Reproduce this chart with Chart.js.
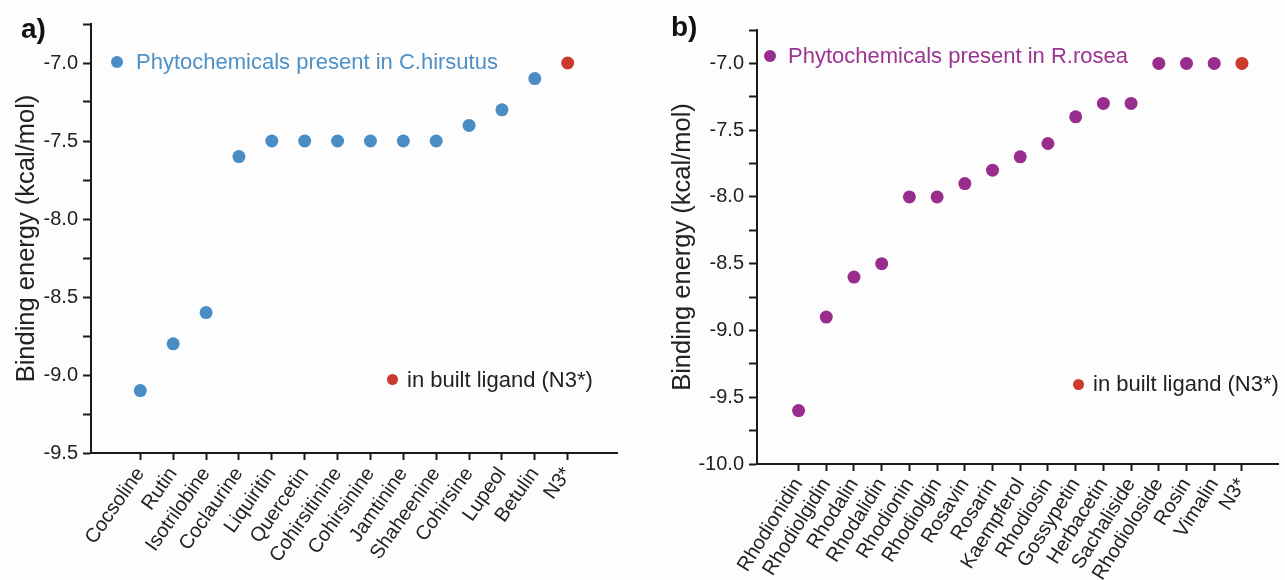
<!DOCTYPE html>
<html>
<head>
<meta charset="utf-8">
<script src="https://cdn.jsdelivr.net/npm/chart.js@4.4.1/dist/chart.umd.min.js"></script>
<style>
  html, body { margin:0; padding:0; background:#fdfdfd; }
  #wrap { position:relative; width:1285px; height:580px; overflow:hidden; font-family:"Liberation Sans", Arial, sans-serif; }
  canvas { position:absolute; top:0; }
  .lbl { position:absolute; font-weight:bold; font-size:28px; line-height:28px; color:#111; }
  .leg { position:absolute; font-size:22px; line-height:22px; white-space:nowrap; }
  .dot { position:absolute; border-radius:50%; }
</style>
</head>
<body>
<div id="wrap">
  <canvas id="ca" width="640" height="580" style="left:0px"></canvas>
  <canvas id="cb" width="645" height="580" style="left:640px"></canvas>

  <div class="lbl" style="left:21px; top:15px;">a)</div>
  <div class="lbl" style="left:671px; top:13px;">b)</div>

  <div class="dot" style="left:111px; top:56px; width:12px; height:12px; background:#4a8cc4;"></div>
  <div class="leg" style="left:136px; top:51px; color:#4f90c6;">Phytochemicals present in C.hirsutus</div>
  <div class="dot" style="left:387px; top:374px; width:11px; height:11px; background:#cc3a2e;"></div>
  <div class="leg" style="left:407px; top:369px; color:#222;">in built ligand (N3*)</div>

  <div class="dot" style="left:764px; top:50px; width:12px; height:12px; background:#982d8e;"></div>
  <div class="leg" style="left:788px; top:45px; color:#9b3592;">Phytochemicals present in R.rosea</div>
  <div class="dot" style="left:1073px; top:379px; width:11px; height:11px; background:#cc3a2e;"></div>
  <div class="leg" style="left:1093px; top:373px; color:#222;">in built ligand (N3*)</div>
</div>
<script>
// ---- Data ----
const aCategories = ['Cocsoline','Rutin','Isotrilobine','Coclaurine','Liquiritin','Quercetin','Cohirsitinine','Cohirsinine','Jamtinine','Shaheenine','Cohirsine','Lupeol','Betulin','N3*'];
const aValues = [-9.1,-8.8,-8.6,-7.6,-7.5,-7.5,-7.5,-7.5,-7.5,-7.5,-7.4,-7.3,-7.1,-7.0];

const bCategories = ['Rhodionidin','Rhodiolgidin','Rhodalin','Rhodalidin','Rhodionin','Rhodiolgin','Rosavin','Rosarin','Kaempferol','Rhodiosin','Gossypetin','Herbacetin','Sachaliside','Rhodioloside','Rosin','Vimalin','N3*'];
const bValues = [-9.6,-8.9,-8.6,-8.5,-8.0,-8.0,-7.9,-7.8,-7.7,-7.6,-7.4,-7.3,-7.3,-7.0,-7.0,-7.0,-7.0];

const aYTicks = [-9.5,-9.25,-9.0,-8.75,-8.5,-8.25,-8.0,-7.75,-7.5,-7.25,-7.0,-6.75];
const bYTicks = [-10.0,-9.75,-9.5,-9.25,-9.0,-8.75,-8.5,-8.25,-8.0,-7.75,-7.5,-7.25,-7.0,-6.75];

const yTitle = 'Binding energy (kcal/mol)';
const refName = 'N3*';

// ---- Styles ----
const AXIS = '#1a1a1a';
const TXT = '#222';
const RED = '#cc3a2e';

function makeChart(id, cats, vals, yTicks, opt) {
  const refIdx = cats.indexOf(refName);
  return new Chart(document.getElementById(id), {
    type: 'scatter',
    data: {
      datasets: [{
        data: vals.map((v, i) => ({ x: i, y: v })),
        pointRadius: 6.5,
        pointHoverRadius: 6.5,
        pointBorderWidth: 0,
        pointBackgroundColor: vals.map((v, i) => i === refIdx ? RED : opt.color),
        showLine: false
      }]
    },
    options: {
      responsive: false,
      devicePixelRatio: 1,
      animation: false,
      layout: { padding: { top: opt.top, right: opt.right, left: 0, bottom: 0 } },
      plugins: { legend: { display: false }, tooltip: { enabled: false } },
      scales: {
        x: {
          type: 'linear',
          min: -1.5,
          max: opt.xmax,
          afterBuildTicks: (s) => { s.ticks = cats.map((c, i) => ({ value: i })); },
          afterFit: (s) => { s.height = opt.xh; s.paddingLeft = 0; s.paddingRight = 0; },
          ticks: {
            autoSkip: false,
            minRotation: opt.rot, maxRotation: opt.rot,
            padding: 3,
            color: TXT,
            font: { family: 'Liberation Sans', size: 20 },
            callback: (v) => cats[v]
          },
          grid: { drawOnChartArea: false, drawTicks: true, tickLength: 7, tickColor: AXIS, tickWidth: 2 },
          border: { display: true, color: AXIS, width: 2 }
        },
        y: {
          type: 'linear',
          min: yTicks[0],
          max: yTicks[yTicks.length - 1],
          afterBuildTicks: (s) => { s.ticks = yTicks.map(v => ({ value: v })); },
          afterFit: (s) => { s.width = opt.yw; s.paddingTop = 0; s.paddingBottom = 0; },
          ticks: {
            autoSkip: false,
            padding: 5,
            color: TXT,
            font: { family: 'Liberation Sans', size: 20 },
            callback: (v) => (Math.abs(v * 2 - Math.round(v * 2)) < 1e-6) ? v.toFixed(1) : ''
          },
          grid: { drawOnChartArea: false, drawTicks: true, tickLength: 8, tickColor: AXIS, tickWidth: 2 },
          border: { display: true, color: AXIS, width: 2 },
          title: {
            display: true,
            text: yTitle,
            color: TXT,
            font: { family: 'Liberation Sans', size: 25.5 },
            padding: { top: opt.titlePad, bottom: 0 }
          }
        }
      }
    }
  });
}

makeChart('ca', aCategories, aValues, aYTicks, {
  color: '#4a8cc4', top: 24, right: 23, xmax: 14.5, xh: 127, yw: 91, rot: 55, titlePad: 11.7
});
makeChart('cb', bCategories, bValues, bYTicks, {
  color: '#982d8e', top: 30, right: 0, xmax: 17.32, xh: 116, yw: 117, rot: 58, titlePad: 27.7
});
</script>
</body>
</html>
